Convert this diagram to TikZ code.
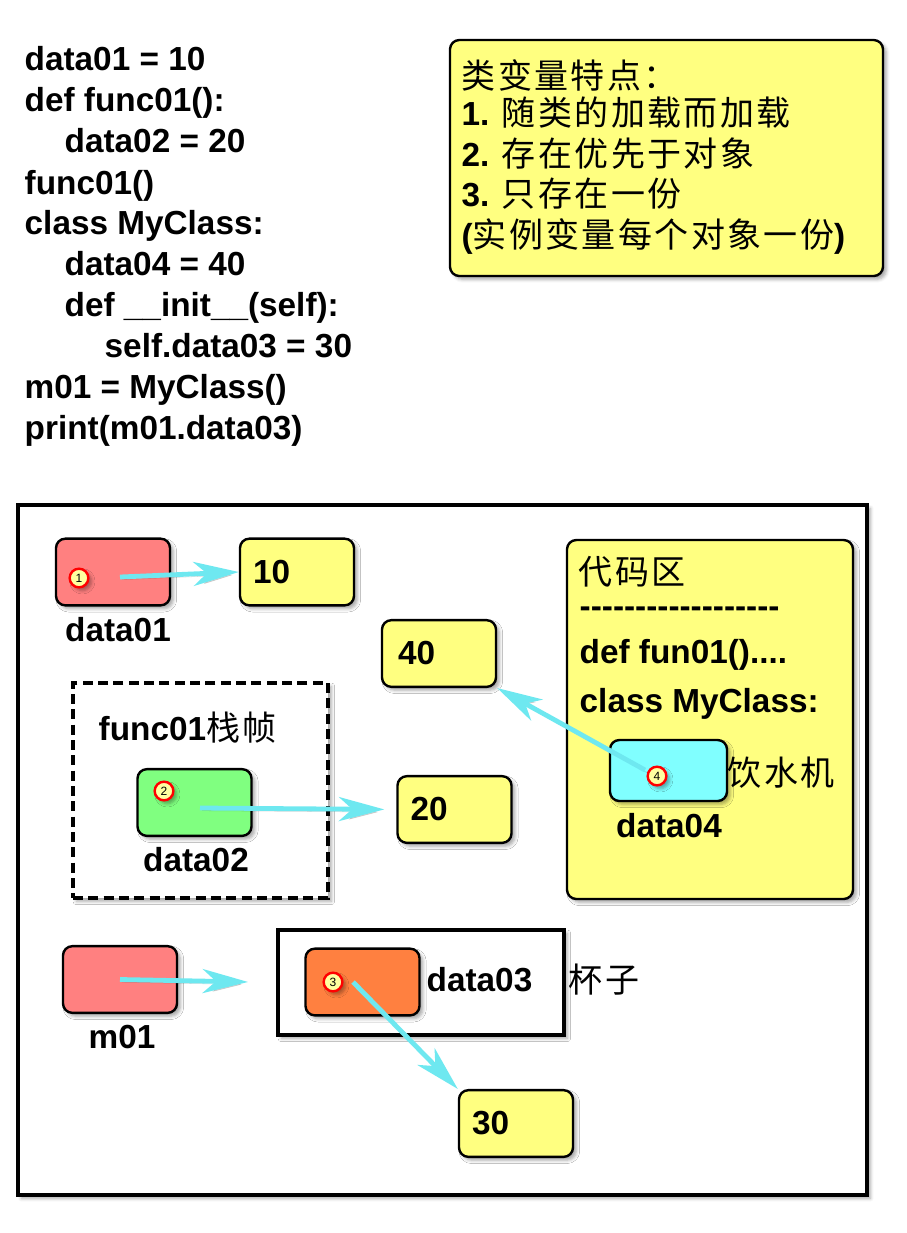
\documentclass[tikz,border=0pt]{standalone}
\usepackage{fontspec}
\setmainfont{Liberation Sans}
\newfontfamily\cjk{Noto Sans CJK SC}[Scale=1.02,LetterSpace=7]
\usetikzlibrary{arrows.meta,shadows.blur}

\definecolor{cellred}{RGB}{255,128,128}
\definecolor{cellyellow}{RGB}{255,255,128}
\definecolor{cellgreen}{RGB}{128,255,128}
\definecolor{cellcyan}{RGB}{128,255,255}
\definecolor{cellorange}{RGB}{255,128,64}
\definecolor{refcyan}{RGB}{110,232,240}
\definecolor{badgefill}{RGB}{255,255,160}

\newcommand\zh[1]{{\cjk\mdseries #1}}

\begin{document}
\begin{tikzpicture}[x=0.75pt,y=0.75pt,yscale=-1,xscale=1,
    every node/.style={font=\bfseries\fontsize{25}{30}\selectfont},
    soft/.style={blur shadow={shadow xshift=2.5pt,shadow yshift=-2.5pt,shadow blur radius=2.5pt,shadow opacity=35}},
    cell/.style={draw,line width=1.8pt,rounded corners=7pt,minimum width=85.5pt,minimum height=50pt,soft},
    value/.style={cell,fill=cellyellow,inner xsep=9.75pt,text width=66pt,align=left},
    badge/.style={circle,draw=red,fill=badgefill,line width=1.8pt,inner sep=0pt,minimum size=14pt,
        font=\mdseries\fontsize{9}{9}\selectfont,soft},
    ref/.style={draw=refcyan,line width=3.6pt,-{Stealth[length=34pt,width=18pt,inset=10pt]},
        preaction={draw=black,opacity=0.15,transform canvas={shift={(1.5pt,-2pt)}}}},
    frame/.style={draw,fill=white,line width=3pt,soft},
    codeline/.style={anchor=base west}
]
    \useasboundingbox (0,0) rectangle (907,1233);

    % source code
    \node (c1) [codeline] at (20,70) {data01 = 10};
    \node (c2) [codeline] at (20,111) {def func01():};
    \node (c3) [codeline] at (60,152) {data02 = 20};
    \node (c4) [codeline] at (20,194) {func01()};
    \node (c5) [codeline] at (20,234) {class MyClass:};
    \node (c6) [codeline] at (60,275) {data04 = 40};
    \node (c7) [codeline] at (60,316) {def \_\_init\_\_(self):};
    \node (c8) [codeline] at (100,357) {self.data03 = 30};
    \node (c9) [codeline] at (20,398) {m01 = MyClass()};
    \node (c10) [codeline] at (20,439) {print(m01.data03)};

    % note
    \node (note) [cell,fill=cellyellow,minimum width=324.75pt,minimum height=177pt] at (666.5,158) {};
    \node (n1) [anchor=west] at (457,75) {\zh{类变量特点：}};
    \node (n2) [anchor=west] at (457,113) {1. \zh{随类的加载而加载}};
    \node (n3) [anchor=west] at (457,154) {2. \zh{存在优先于对象}};
    \node (n4) [anchor=west] at (457,194) {3. \zh{只存在一份}};
    \node (n5) [anchor=west] at (457,237) {(\zh{实例变量每个对象一份})};

    % memory
    \draw [frame] (18,505) rectangle (867,1195);

    \node (codearea) [cell,fill=cellyellow,minimum width=214.5pt,minimum height=269.25pt] at (710,719.5) {};
    \node (ca1) [anchor=west] at (574,572) {\zh{代码区}};
    \node (ca2) [anchor=west] at (575,612) {{-}{-}{-}{-}{-}{-}{-}{-}{-}{-}{-}{-}{-}{-}{-}{-}{-}{-}};
    \node (ca3) [anchor=west] at (575,655) {def fun01()....};
    \node (ca4) [anchor=west] at (575,704) {class MyClass:};

    \node (stackframe) [draw,fill=white,line width=3pt,dash pattern=on 7.5pt off 4pt,minimum width=191.25pt,minimum height=161.25pt,soft] at (200.5,790.5) {};
    \node (fname) [anchor=west] at (94,728) {func01\zh{栈帧}};

    \node (cup) [frame,minimum width=214.5pt,minimum height=78.75pt] at (421,982.5) {};

    \node (data01) [cell,fill=cellred] at (113,572) {};
    \node (data02) [cell,fill=cellgreen] at (194.5,802.5) {};
    \node (data04) [cell,fill=cellcyan,minimum width=87.75pt,minimum height=45.75pt] at (668.5,770.5) {};
    \node (m01) [cell,fill=cellred] at (120,979.5) {};
    \node (data03) [cell,fill=cellorange] at (362.5,982) {};

    \node (v10) [value] at (297,572) {10};
    \node (v40) [value,text width=61.5pt] at (439,653.5) {40};
    \node (v20) [value] at (454.5,809.5) {20};
    \node (v30) [value] at (516,1123.5) {30};

    \node (l01) at (118,630) {data01};
    \node (l02) at (196,860) {data02};
    \node (l04) at (669,826) {data04};
    \node (lm01) at (122,1037) {m01};
    \node (l03) [anchor=west] at (422,980) {data03};
    \node (machine) [anchor=west] at (723,773) {\zh{饮水机}};
    \node (cupname) [anchor=west] at (564,980) {\zh{杯子}};

    % references
    \coordinate (s1) at (120,577);
    \coordinate (s2) at (200,808);
    \coordinate (s3) at (353,982);
    \coordinate (s4) at (645,770);
    \draw [ref] (s1) -- (v10.west);
    \draw [ref,shorten >=9pt] (s2) -- (v20.west);
    \draw [ref,shorten >=21pt] (m01.center) -- (cup.west);
    \draw [ref] (s4) -- (v40.south east);
    \draw [ref] (s3) -- (v30.north west);

    \node (b1) [badge] at (79,578) {1};
    \node (b2) [badge] at (164,791) {2};
    \node (b3) [badge] at (333,982) {3};
    \node (b4) [badge] at (657,776) {4};
\end{tikzpicture}
\end{document}
